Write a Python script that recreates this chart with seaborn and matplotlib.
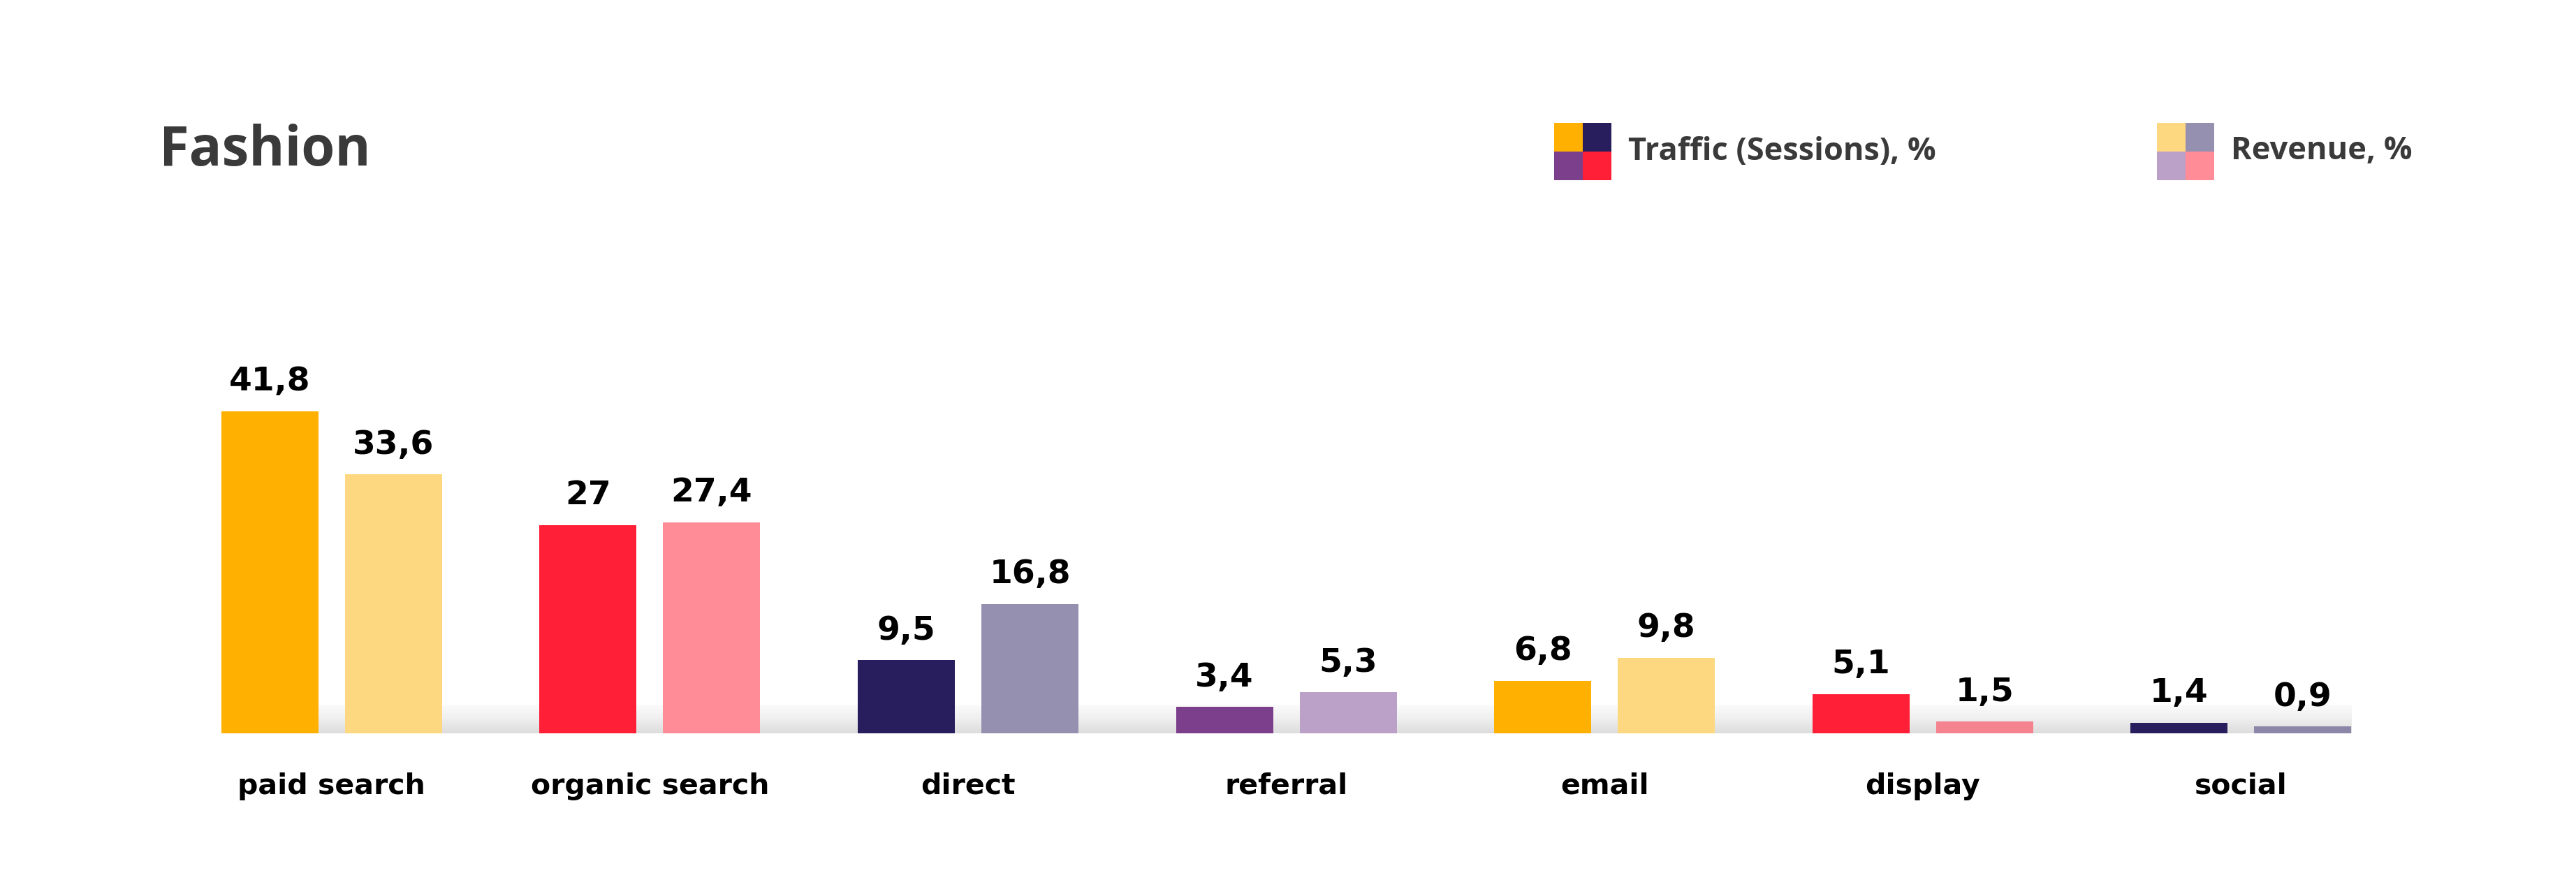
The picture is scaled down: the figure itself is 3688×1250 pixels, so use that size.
import numpy as np
import pandas as pd
import matplotlib.pyplot as plt
import seaborn as sns
from matplotlib.patches import Rectangle

categories = ['paid search', 'organic search', 'direct', 'referral', 'email', 'display', 'social']
traffic = [41.8, 27, 9.5, 3.4, 6.8, 5.1, 1.4]
revenue = [33.6, 27.4, 16.8, 5.3, 9.8, 1.5, 0.9]
series = ['Traffic (Sessions), %', 'Revenue, %']

traffic_colors = ['#FFB000', '#FF1F36', '#281E5D', '#7B3F8C', '#FFB000', '#FF1F36', '#281E5D']
revenue_colors = ['#FDD880', '#FF8C96', '#9690B0', '#BBA0C8', '#FDD880', '#F4838F', '#8C86A8']

df = pd.DataFrame({
    'category': categories * 2,
    'series': [series[0]] * len(categories) + [series[1]] * len(categories),
    'value': traffic + revenue,
})

sns.set_style('white')
plt.rcParams['font.family'] = ['DejaVu Sans']

fig = plt.figure(figsize=(36.88, 12.5), dpi=100)
ax = fig.add_axes([0.067, 0.16, 0.8647, 0.4416])

sns.barplot(data=df, x='category', y='value', hue='series', hue_order=series,
            order=categories, width=0.777, gap=0.215, legend=False,
            errorbar=None, ax=ax, zorder=3)

# recolor each bar per category
for cont, cols in zip(ax.containers, [traffic_colors, revenue_colors]):
    for bar, c in zip(cont, cols):
        bar.set_facecolor(c)
        bar.set_edgecolor('none')
    ax.bar_label(cont, labels=[f'{v:g}'.replace('.', ',') for v in cont.datavalues],
                 padding=14, fontsize=34, fontweight='bold', color='black')

# soft shadow band along the baseline
x0 = min(p.get_x() for p in ax.patches)
x1 = max(p.get_x() + p.get_width() for p in ax.patches)
grad = np.linspace(0, 1, 100).reshape(-1, 1)
ax.imshow(grad, extent=[x0, x1, 0, 3.7], aspect='auto', cmap=plt.cm.Greys,
          vmin=-0.2, vmax=5, origin='upper', zorder=1, interpolation='bilinear')

ax.set_xlim(-0.5, len(categories) - 0.5)
ax.set_ylim(0, 50)
ax.set_xlabel('')
ax.set_ylabel('')
ax.set_yticks([])
ax.tick_params(axis='x', length=0, pad=40, labelsize=29.5)
for t in ax.get_xticklabels():
    t.set_fontweight('bold')
    t.set_color('black')
sns.despine(ax=ax, left=True, bottom=True)

# title
fig.text(228 / 3688, 1 - 237 / 1250, 'Fashion', fontsize=56, fontweight='bold',
         family='Open Sans', color='#3a3a3a', va='baseline', ha='left')

# legend: 2x2 colour swatches + label
W, H = 3688, 1250
sq = 41
legend_items = [
    (2225, series[0], ['#FFB000', '#281E5D', '#7B3F8C', '#FF1F36']),
    (3088, series[1], ['#FDD880', '#9690B0', '#BBA0C8', '#FF8C96']),
]
for lx, label, cols in legend_items:
    top = 176
    offs = [(0, 0), (1, 0), (0, 1), (1, 1)]
    for (i, j), c in zip(offs, cols):
        fig.patches.append(Rectangle(((lx + i * sq) / W, 1 - (top + (j + 1) * sq) / H),
                                     sq / W, sq / H, transform=fig.transFigure,
                                     facecolor=c, edgecolor='none'))
    fig.text((lx + 2 * sq + 24) / W, 1 - 217 / H, label, fontsize=32.5, fontweight='bold',
             family='Open Sans', color='#3a3a3a', va='center', ha='left')

fig.savefig('out.png', dpi=100, facecolor='white')
